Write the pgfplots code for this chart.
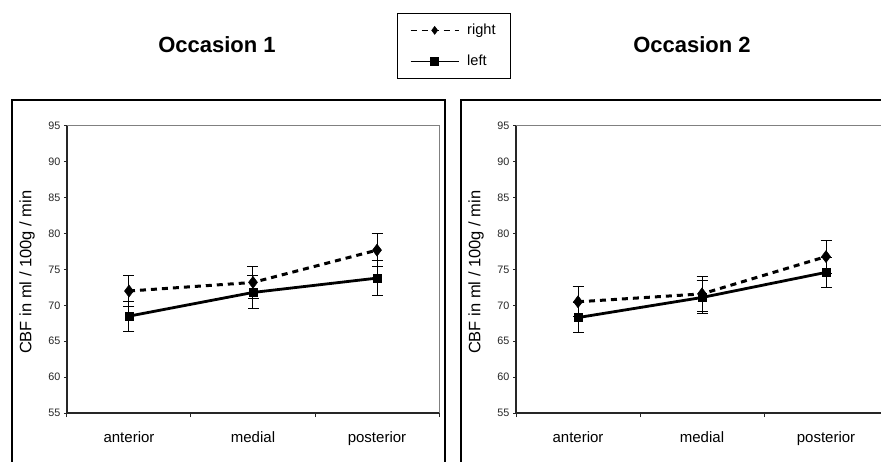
\documentclass[border=0pt]{standalone}
\usepackage{pgfplots}
\usepackage{pgfplotstable}
\pgfplotsset{compat=1.18}
\usepackage{fontspec}
\setmainfont{Liberation Sans}

\pgfplotstableread{
x y e
0 72.0 2.2
1 73.2 2.2
2 77.7 2.3
}\oneright
\pgfplotstableread{
x y e
0 68.5 2.1
1 71.8 2.3
2 73.8 2.4
}\oneleft
\pgfplotstableread{
x y e
0 70.5 2.1
1 71.6 2.4
2 76.8 2.3
}\tworight
\pgfplotstableread{
x y e
0 68.3 2.1
1 71.1 2.3
2 74.6 2.1
}\twoleft

\pgfplotsset{
  cbf/.style={
    width=372pt, height=287pt, scale only axis,
    xmin=-0.5, xmax=2.5, ymin=55, ymax=95,
    ytick={55,60,...,95},
    xtick={0,1,2}, xticklabels={anterior,medial,posterior},
    minor xtick={-0.5,0.5,1.5,2.5},
    axis x line*=bottom, axis y line*=left,
    axis line style={line width=1.2pt, black!85},
    tick align=outside,
    major tick length=3pt,
    minor tick length=4pt,
    major x tick style={draw=none},
    minor x tick style={line width=1pt, black!85},
    major y tick style={line width=1pt, black!85},
    /pgf/number format/assume math mode=true,
    yticklabel style={font=\fontsize{10.8}{12}\selectfont, text=black!85},
    xticklabel style={font=\fontsize{15}{18}\selectfont, yshift=-12pt},
    ylabel={CBF in ml / 100g / min},
    every axis y label/.style={at={(axis description cs:-0.1075,0.49)}, rotate=90, anchor=center,
      font=\fontsize{16.5}{19}\selectfont},
    clip=false,
  },
  rightline/.style={black, line width=3pt, dash pattern=on 6pt off 5pt,
    mark=diamond*, mark size=6pt, mark options={solid, line width=0.5pt, fill=black},
    error bars/.cd, y dir=both, y explicit,
    error bar style={line width=1pt, solid, black},
    error mark options={rotate=90, mark size=5.5pt, line width=1pt, black, solid}},
  leftline/.style={black, line width=2.8pt, solid,
    mark=square*, mark size=4pt, mark options={solid, line width=0.5pt, fill=black},
    error bars/.cd, y dir=both, y explicit,
    error bar style={line width=1pt, solid, black},
    error mark options={rotate=90, mark size=5.5pt, line width=1pt, black, solid}},
}

\begin{document}
\begin{tikzpicture}[x=1pt,y=1pt]
\useasboundingbox (0,0) rectangle (881,461);
\clip (0,0) rectangle (881,461);
\fill[white] (0,0) rectangle (881,461);
% frames
\draw[line width=1.3pt, black] (12,361) rectangle (445,-20);
\draw[line width=1.3pt, black] (461,361) rectangle (900,-20);
% titles
\node[font=\bfseries\fontsize{22}{26}\selectfont] at (217,416) {Occasion 1};
\node[font=\bfseries\fontsize{22}{26}\selectfont] at (692,416) {Occasion 2};

\begin{axis}[cbf, at={(67pt,48pt)}, anchor=south west,
  legend style={at={(axis description cs:1.040,1.394)}, anchor=north,
    draw=black, line width=0.8pt, font=\fontsize{14.6}{17}\selectfont,
    row sep=15pt, column sep=6pt, inner xsep=13pt, inner ysep=9pt, cells={anchor=west}},
  legend image code/.code={\draw[mark repeat=2,mark phase=2,#1] plot coordinates {(0pt,0pt) (24pt,0pt) (48pt,0pt)};},
  legend image post style={line width=1pt, mark size=4pt},
]
\addplot[rightline] table[x=x,y=y,y error=e] {\oneright};
\addlegendentry{right}
\addplot[leftline] table[x=x,y=y,y error=e] {\oneleft};
\addlegendentry{left}
\draw[black!50, line width=1pt] (rel axis cs:0,1) -- (rel axis cs:1,1) -- (rel axis cs:1,0);
\end{axis}

\begin{axis}[cbf, at={(516pt,48pt)}, anchor=south west]
\addplot[rightline] table[x=x,y=y,y error=e] {\tworight};
\addplot[leftline] table[x=x,y=y,y error=e] {\twoleft};
\draw[black!50, line width=1pt] (rel axis cs:0,1) -- (rel axis cs:1,1) -- (rel axis cs:1,0);
\end{axis}
\end{tikzpicture}
\end{document}
